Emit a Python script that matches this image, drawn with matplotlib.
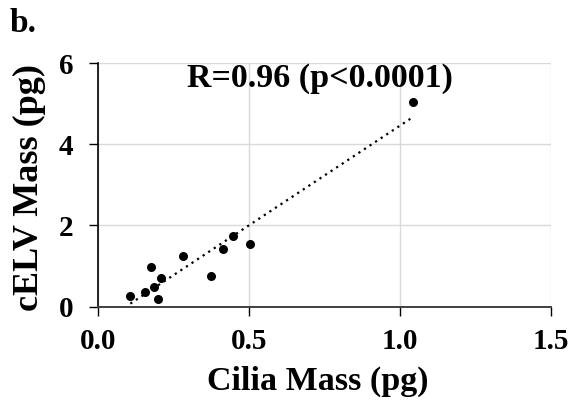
import numpy as np
import matplotlib.pyplot as plt

# values
cilia_mass = [0.108, 0.158, 0.176, 0.186, 0.201, 0.211, 0.281, 0.375, 0.414, 0.449, 0.503, 1.045]
celv_mass = [0.27, 0.35, 0.97, 0.48, 0.20, 0.71, 1.26, 0.75, 1.41, 1.73, 1.55, 5.03]
x_ticks = [0.0, 0.5, 1.0, 1.5]
x_tick_labels = ["0.0", "0.5", "1.0", "1.5"]
y_ticks = [0, 2, 4, 6]
stat_text = "R=0.96 (p<0.0001)"

plt.rcParams['font.family'] = ['Liberation Serif', 'DejaVu Serif']
plt.rcParams['font.weight'] = 'bold'

fig = plt.figure(figsize = (5.73, 4.07), dpi = 100)
ax = fig.add_axes([97.7 / 573, 1 - 306.7 / 407, (551 - 97.7) / 573, (306.7 - 63) / 407])

x = np.array(cilia_mass)
y = np.array(celv_mass)

# linear trendline, like Excel's
slope, intercept = np.polyfit(x, y, 1)
xl = np.array([x.min(), x.max()])
ax.plot(xl, slope * xl + intercept, color = 'black', linestyle = (0, (1, 2)), linewidth = 1.6)

ax.scatter(x, y, s = 30, color = 'black', zorder = 3)

ax.set_xlim(0, 1.5)
ax.set_ylim(0, 6)
ax.set_xticks(x_ticks)
ax.set_xticklabels(x_tick_labels)
ax.set_yticks(y_ticks)
ax.tick_params(labelsize = 21, width = 1, length = 6.5, direction = 'out', colors = 'black')
ax.tick_params(axis = 'x', pad = 9)
ax.tick_params(axis = 'y', pad = 11)
for lab in ax.get_xticklabels() + ax.get_yticklabels():
    lab.set_fontweight('bold')

ax.grid(True, color = '#d9d9d9', linewidth = 1)
ax.set_axisbelow(True)
for side in ['top', 'right']:
    ax.spines[side].set_visible(False)
ax.spines['left'].set_linewidth(1.2)
ax.spines['bottom'].set_linewidth(1.4)
ax.spines['bottom'].set_color('#404040')

ax.set_xlabel("Cilia Mass (pg)", fontsize = 24.5, fontweight = 'bold')
ax.xaxis.set_label_coords(0.486, -0.243)
ax.set_ylabel("cELV Mass (pg)", fontsize = 26, fontweight = 'bold')
ax.yaxis.set_label_coords(-0.114, 0.49)

ax.text(0.737, 5.62, stat_text, fontsize = 24.5, fontweight = 'bold', va = 'center', ha = 'center')
fig.text(10 / 573, 1 - 23 / 407, "b.", fontsize = 24, fontweight = 'bold', va = 'center', ha = 'left')

fig.savefig("out.png", dpi = 100)
